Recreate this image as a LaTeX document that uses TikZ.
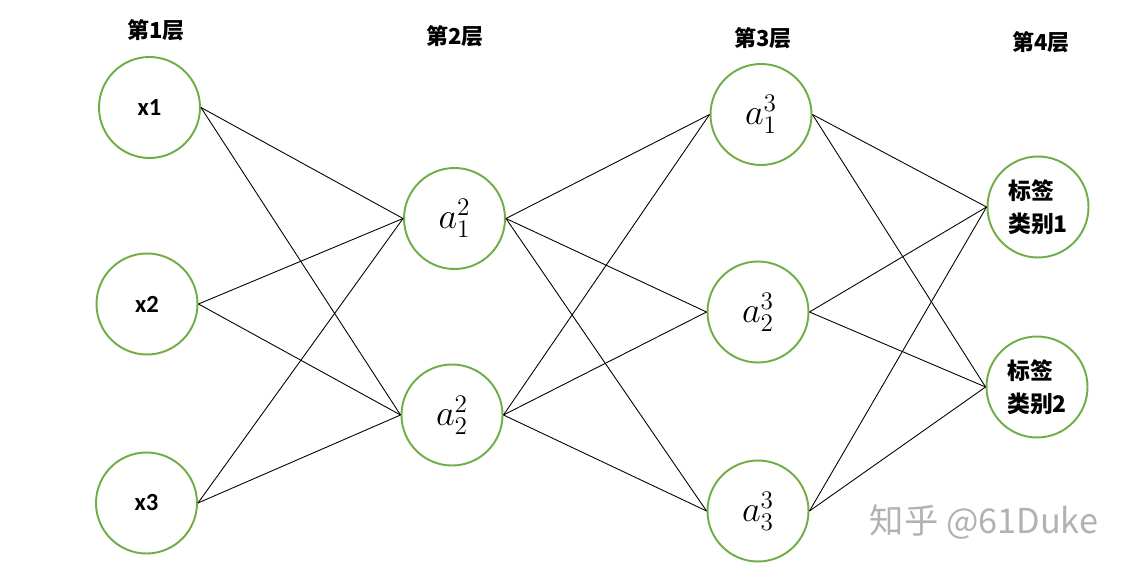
\documentclass[tikz,border=0pt]{standalone}
\usepackage{fontspec}
\setmainfont{Carlito}
\newfontfamily\cjk{Noto Sans CJK SC}
\definecolor{nodegreen}{RGB}{112,173,71}
\tikzset{
  neuron/.style={circle,draw=nodegreen,line width=1.1pt,minimum size=2.02cm,inner sep=0pt},
  layertitle/.style={font=\cjk\bfseries\fontsize{12.5}{14}\selectfont},
  link/.style={line width=0.5pt}
}
\begin{document}
\begin{tikzpicture}
\useasboundingbox (0,0) rectangle (22.52,-11.38);
% 層の名前
\node[layertitle] (t1) at (3.12,-0.60) {第1层};
\node[layertitle] (t2) at (9.10,-0.72) {第2层};
\node[layertitle] (t3) at (15.26,-0.76) {第3层};
\node[layertitle] (t4) at (20.82,-0.84) {第4层};
% 第1層
\node[neuron,font=\bfseries\fontsize{14}{16}\selectfont] (x1) at (2.99,-2.15) {x1};
\node[neuron,font=\bfseries\fontsize{14}{16}\selectfont] (x2) at (2.94,-6.08) {x2};
\node[neuron,font=\bfseries\fontsize{14}{16}\selectfont] (x3) at (2.93,-10.06) {x3};
% 第2層
\node[neuron,font=\fontsize{21}{24}\selectfont] (a21) at (9.09,-4.37) {$a_1^2$};
\node[neuron,font=\fontsize{21}{24}\selectfont] (a22) at (9.04,-8.30) {$a_2^2$};
% 第3層
\node[neuron,font=\fontsize{21}{24}\selectfont] (a31) at (15.22,-2.29) {$a_1^3$};
\node[neuron,font=\fontsize{21}{24}\selectfont] (a32) at (15.16,-6.24) {$a_2^3$};
\node[neuron,font=\fontsize{21}{24}\selectfont] (a33) at (15.16,-10.22) {$a_3^3$};
% 第4層
\node[neuron,align=left,font=\cjk\bfseries\fontsize{13}{19}\selectfont] (y1) at (20.76,-4.14) {标签\\类别1};
\node[neuron,align=left,font=\cjk\bfseries\fontsize{13}{19}\selectfont] (y2) at (20.74,-7.74) {标签\\类别2};
% 結線
\foreach \s in {x1,x2,x3}
  \foreach \t in {a21,a22}
    \draw[link] (\s.east) -- (\t.west);
\foreach \s in {a21,a22}
  \foreach \t in {a31,a32,a33}
    \draw[link] (\s.east) -- (\t.west);
\foreach \s in {a31,a32,a33}
  \foreach \t in {y1,y2}
    \draw[link] (\s.east) -- (\t.west);
% 透かし
\node[text=black!30,font=\cjk\fontsize{19.5}{22}\selectfont] (wm) at (19.68,-10.44) {知乎 @61Duke};
\end{tikzpicture}
\end{document}
